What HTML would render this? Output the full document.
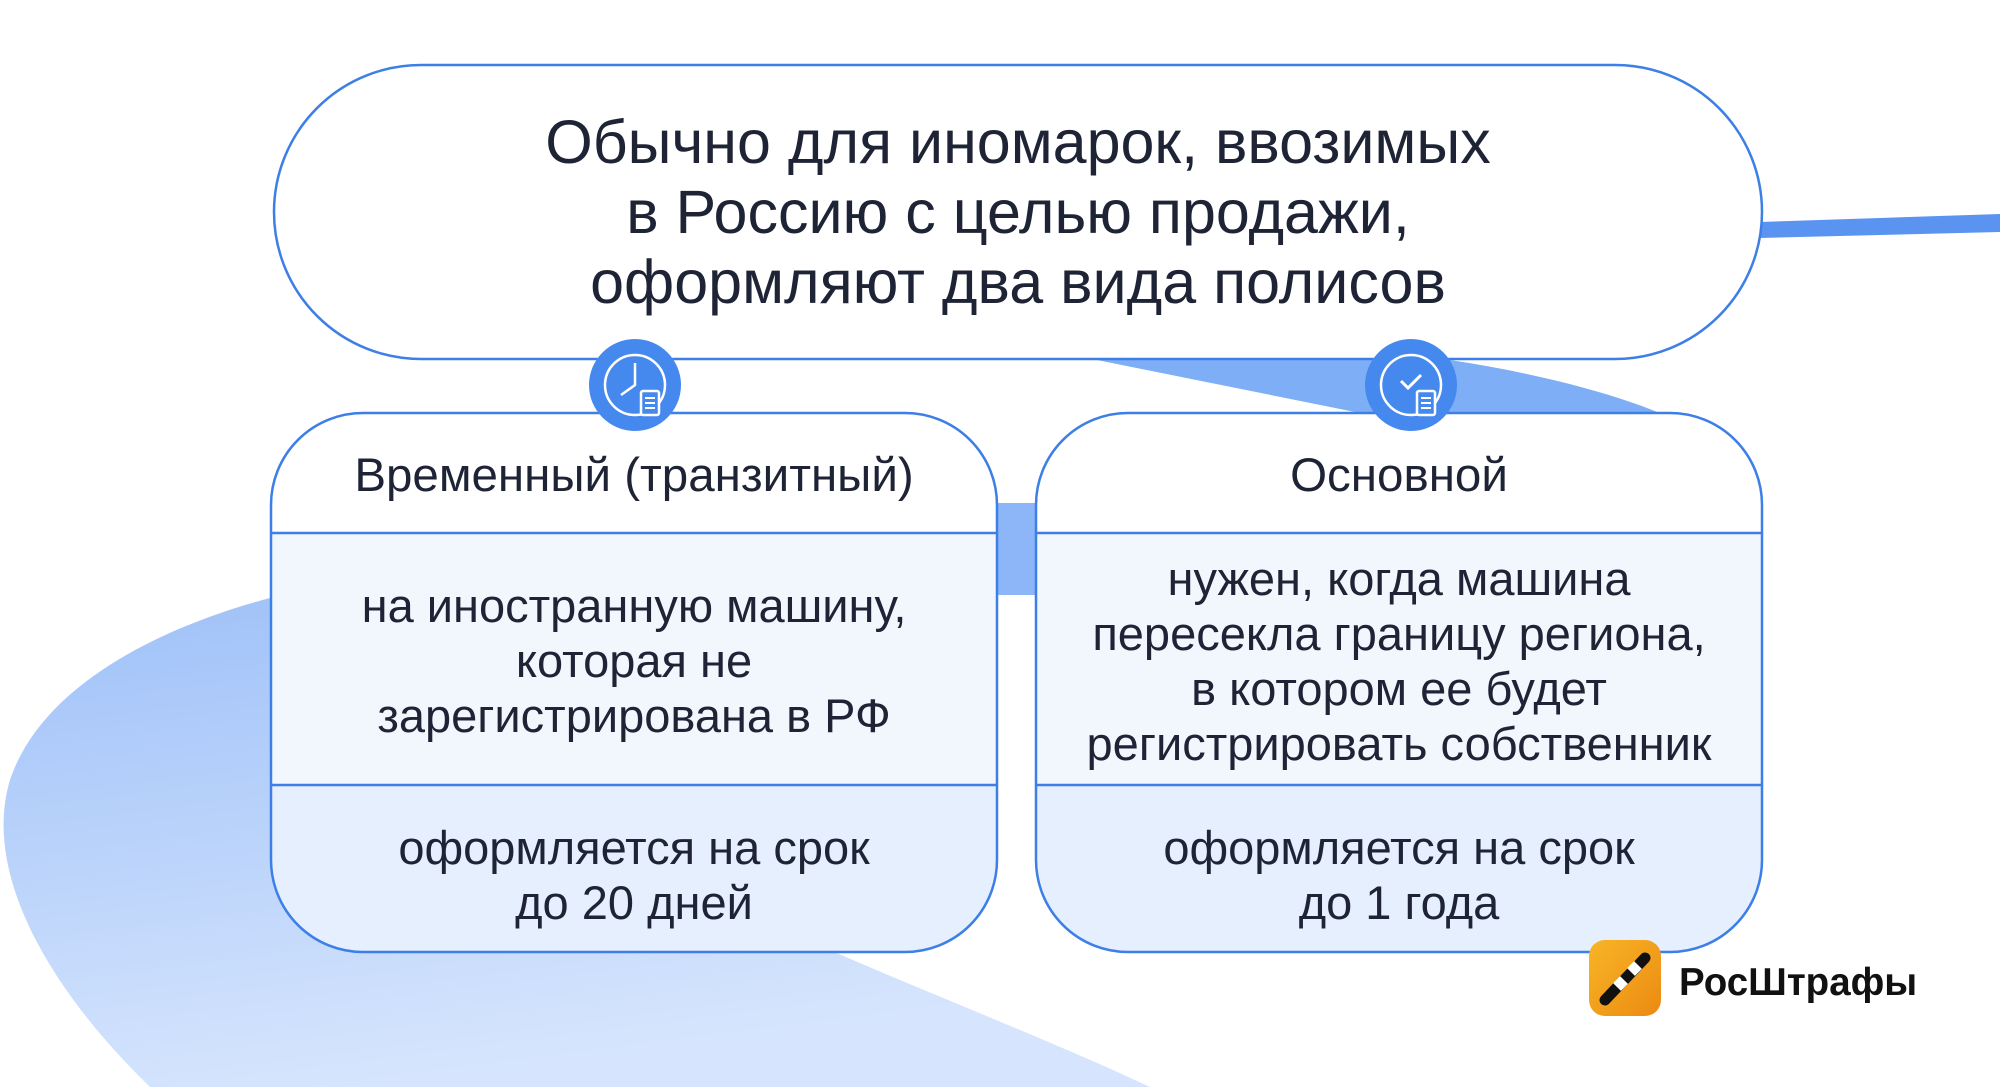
<!DOCTYPE html>
<html><head><meta charset="utf-8"><style>
html,body{margin:0;padding:0;background:#fff}
svg{display:block}
text{font-family:"Liberation Sans",Arial,sans-serif;fill:#1e2436}
</style></head><body>
<svg width="2000" height="1087" viewBox="0 0 2000 1087" xmlns="http://www.w3.org/2000/svg">
<defs>
<linearGradient id="blob" x1="0" y1="0" x2="0.3" y2="1">
<stop offset="0" stop-color="#9fc1f8"/><stop offset="1" stop-color="#d6e5fd"/>
</linearGradient>
<linearGradient id="org" x1="0" y1="0" x2="1" y2="1">
<stop offset="0" stop-color="#f8b526"/><stop offset="1" stop-color="#ec8a12"/>
</linearGradient>
</defs>
<!-- background blob -->
<path d="M270 598 C150 630 40 690 10 780 C-20 880 60 1000 150 1087 L1150 1087 C1050 1040 920 990 830 950 L830 598 Z" fill="url(#blob)"/>
<!-- right connector line -->
<path d="M1760 222 L2000 214 L2000 232 L1760 238 Z" fill="#5b93f0"/>
<!-- wedge band -->
<path d="M1097 360 L1365 414 L1662 414 C1610 392 1530 372 1450 360 Z" fill="#7eaef6"/>
<!-- between cards band -->
<rect x="995" y="503" width="45" height="92" fill="#8cb6f8"/>
<!-- top box -->
<rect x="274" y="65" width="1488" height="294" rx="147" fill="#fff" stroke="#3d7fe6" stroke-width="2.5"/>
<text x="1018" y="163" font-size="61" text-anchor="middle">Обычно для иномарок, ввозимых</text>
<text x="1018" y="233" font-size="61" text-anchor="middle">в Россию с целью продажи,</text>
<text x="1018" y="303" font-size="61" text-anchor="middle">оформляют два вида полисов</text>
<!-- left card -->
<g>
<clipPath id="c1"><rect x="271" y="413" width="726" height="539" rx="92"/></clipPath>
<g clip-path="url(#c1)">
<rect x="271" y="413" width="726" height="120" fill="#fff"/>
<rect x="271" y="533" width="726" height="252" fill="#f2f7fe"/>
<rect x="271" y="785" width="726" height="167" fill="#e5effd"/>
</g>
<rect x="271" y="413" width="726" height="539" rx="92" fill="none" stroke="#3d7fe6" stroke-width="2.5"/>
<line x1="271" y1="533" x2="997" y2="533" stroke="#3d7fe6" stroke-width="2.5"/>
<line x1="271" y1="785" x2="997" y2="785" stroke="#3d7fe6" stroke-width="2.5"/>
<text x="634" y="491" font-size="47.5" text-anchor="middle">Временный (транзитный)</text>
<text x="634" y="622" font-size="47" text-anchor="middle">на иностранную машину,</text>
<text x="634" y="677" font-size="47" text-anchor="middle">которая не</text>
<text x="634" y="732" font-size="47" text-anchor="middle">зарегистрирована в РФ</text>
<text x="634" y="864" font-size="47" text-anchor="middle">оформляется на срок</text>
<text x="634" y="919" font-size="47" text-anchor="middle">до 20 дней</text>
</g>
<!-- right card -->
<g>
<clipPath id="c2"><rect x="1036" y="413" width="726" height="539" rx="92"/></clipPath>
<g clip-path="url(#c2)">
<rect x="1036" y="413" width="726" height="120" fill="#fff"/>
<rect x="1036" y="533" width="726" height="252" fill="#f2f7fe"/>
<rect x="1036" y="785" width="726" height="167" fill="#e5effd"/>
</g>
<rect x="1036" y="413" width="726" height="539" rx="92" fill="none" stroke="#3d7fe6" stroke-width="2.5"/>
<line x1="1036" y1="533" x2="1762" y2="533" stroke="#3d7fe6" stroke-width="2.5"/>
<line x1="1036" y1="785" x2="1762" y2="785" stroke="#3d7fe6" stroke-width="2.5"/>
<text x="1399" y="491" font-size="47.5" text-anchor="middle">Основной</text>
<text x="1399" y="595" font-size="47" text-anchor="middle">нужен, когда машина</text>
<text x="1399" y="650" font-size="47" text-anchor="middle">пересекла границу региона,</text>
<text x="1399" y="705" font-size="47" text-anchor="middle">в котором ее будет</text>
<text x="1399" y="760" font-size="47" text-anchor="middle">регистрировать собственник</text>
<text x="1399" y="864" font-size="47" text-anchor="middle">оформляется на срок</text>
<text x="1399" y="919" font-size="47" text-anchor="middle">до 1 года</text>
</g>
<!-- icons -->
<g transform="translate(635,385)">
<circle r="46" fill="#4689ee"/>
<circle r="30" fill="none" stroke="#fff" stroke-width="2.5"/>
<path d="M0 -22 V0 L-14 10" fill="none" stroke="#fff" stroke-width="2.5"/>
<rect x="6" y="6" width="18" height="24" rx="2" fill="#4689ee" stroke="#fff" stroke-width="2.5"/>
<path d="M10 13h10M10 18h10M10 23h10" stroke="#fff" stroke-width="2"/>
</g>
<g transform="translate(1411,385)">
<circle r="46" fill="#4689ee"/>
<circle r="30" fill="none" stroke="#fff" stroke-width="2.5"/>
<path d="M-10 -4 L-3 3 L10 -10" fill="none" stroke="#fff" stroke-width="3"/>
<rect x="6" y="6" width="18" height="24" rx="2" fill="#4689ee" stroke="#fff" stroke-width="2.5"/>
<path d="M10 13h10M10 18h10M10 23h10" stroke="#fff" stroke-width="2"/>
</g>
<!-- logo -->
<rect x="1589" y="940" width="72" height="76" rx="16" fill="url(#org)"/>
<path d="M1605 1000 L1645 958" stroke="#111" stroke-width="11" stroke-linecap="round"/>
<path d="M1617 987 L1624 980 M1631 972 L1638 965" stroke="#fff" stroke-width="11"/>
<text x="1679" y="995" font-size="38.5" font-weight="bold" style="fill:#111">РосШтрафы</text>
</svg>
</body></html>
